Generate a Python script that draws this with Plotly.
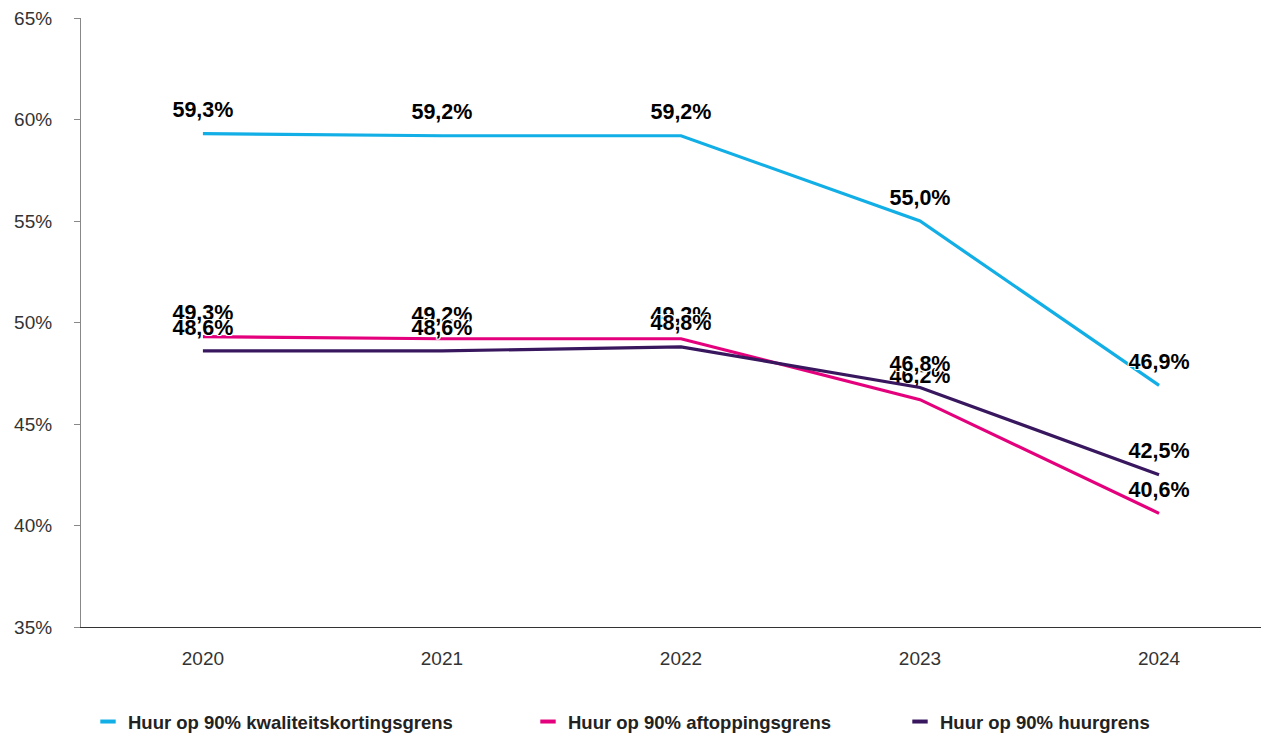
import plotly.graph_objects as go

years = ["2020", "2021", "2022", "2023", "2024"]
kwaliteit = [59.3, 59.2, 59.2, 55.0, 46.9]
aftopping = [49.3, 49.2, 49.2, 46.2, 40.6]
huurgrens = [48.6, 48.6, 48.8, 46.8, 42.5]

names = ["Huur op 90% kwaliteitskortingsgrens",
         "Huur op 90% aftoppingsgrens",
         "Huur op 90% huurgrens"]
colors = ["#12AEE6", "#E4007C", "#38175F"]
series = [kwaliteit, aftopping, huurgrens]
y_ticks = [35, 40, 45, 50, 55, 60, 65]
y_ticktext = [f"{v}%" for v in y_ticks]

def fmt(v):
    return f"{v:.1f}".replace(".", ",") + "%"

halo = ("1px 1px 0 white, -1px -1px 0 white, 1px -1px 0 white, -1px 1px 0 white, "
        "0 1px 0 white, 0 -1px 0 white, 1px 0 0 white, -1px 0 0 white")

W, H = 1261, 725

fig = go.Figure()
for name, color, vals in zip(names, colors, series):
    fig.add_trace(go.Scatter(
        x=years, y=vals, mode="lines+markers+text", name=name,
        line=dict(color=color, width=3.2),
        marker=dict(size=16, color="rgba(0,0,0,0)"),
        text=[fmt(v) for v in vals], textposition="top center",
        textfont=dict(family="Liberation Sans, Arial, sans-serif", size=21.5,
                      color="#000000", weight="bold", shadow=halo),
        showlegend=False, cliponaxis=False, hoverinfo="skip",
    ))

legend_x = [80, 520, 892]
for i, (name, color) in enumerate(zip(names, colors)):
    lg = "legend" if i == 0 else f"legend{i+1}"
    fig.add_trace(go.Scatter(
        x=[None], y=[None], mode="markers", name=name, legend=lg,
        marker=dict(symbol="line-ew", size=11, line=dict(color=color, width=4)),
        showlegend=True,
    ))

legend_common = dict(
    orientation="h", xref="container", yref="container",
    xanchor="left", yanchor="middle", y=1 - 714 / H,
    bgcolor="rgba(0,0,0,0)", itemwidth=30,
    font=dict(family="Liberation Sans, Arial, sans-serif", size=18.5,
              color="#222222", weight="bold"),
)

fig.update_layout(
    width=W, height=H,
    margin=dict(l=73, r=0, t=10, b=106, autoexpand=False),
    paper_bgcolor="white", plot_bgcolor="white",
    font=dict(family="Liberation Sans, Arial, sans-serif", color="#333333"),
    legend=dict(legend_common, x=legend_x[0] / W),
    legend2=dict(legend_common, x=legend_x[1] / W),
    legend3=dict(legend_common, x=legend_x[2] / W),
    xaxis=dict(
        type="category", range=[-0.51, 4.46], automargin=False,
        showline=True, linecolor="#333333", linewidth=1.2,
        showgrid=False, ticks="", zeroline=False,
        tickfont=dict(size=19, color="#333333"),
        ticklabelstandoff=14,
    ),
    yaxis=dict(
        range=[35, 65], tickvals=y_ticks, ticktext=y_ticktext, automargin=False,
        ticklabeloverflow="allow",
        showline=True, linecolor="#888888", linewidth=1.2,
        ticks="outside", ticklen=6, tickcolor="#888888", tickwidth=1.2,
        showgrid=False, zeroline=False,
        tickfont=dict(size=19, color="#333333"),
        ticklabelstandoff=18,
    ),
)

fig.write_html("out.html")
